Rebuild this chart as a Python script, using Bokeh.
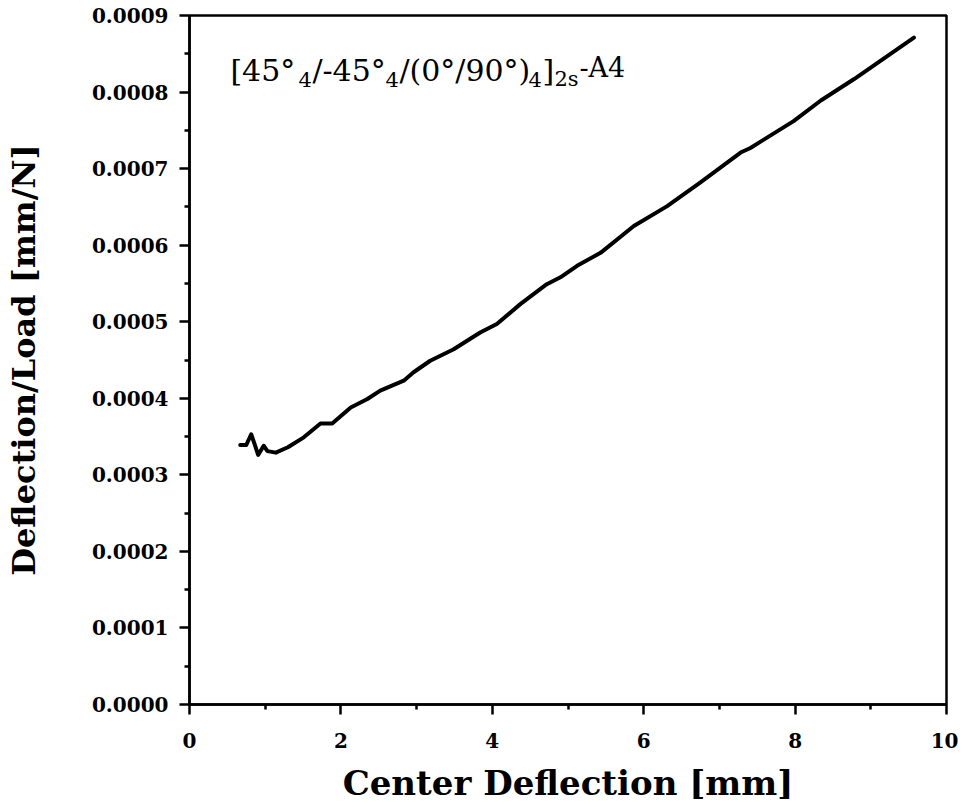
from bokeh.plotting import figure
from bokeh.models import Range1d, FixedTicker, NumeralTickFormatter, Label
from bokeh.embed import file_html
from bokeh.resources import INLINE

# Data
deflection = [0.67, 0.75, 0.815, 0.86, 0.907, 0.95, 0.98, 1.03, 1.14, 1.3, 1.51, 1.73, 1.885,
              2.13, 2.35, 2.52, 2.83, 2.96, 3.18, 3.49, 3.84, 4.06, 4.37, 4.72, 4.90, 5.12,
              5.43, 5.87, 6.31, 6.75, 7.28, 7.41, 7.98, 8.34, 8.78, 9.57]
defl_per_load = [0.000339, 0.000339, 0.000353, 0.000340, 0.000326, 0.000333, 0.000338, 0.000331,
                 0.000329, 0.000336, 0.000349, 0.000367, 0.000367, 0.000388, 0.000399, 0.000410,
                 0.000423, 0.000434, 0.000449, 0.000464, 0.000486, 0.000497, 0.000523, 0.000549,
                 0.000558, 0.000573, 0.000590, 0.000625, 0.000651, 0.000682, 0.000721, 0.000727,
                 0.000762, 0.000789, 0.000817, 0.000871]

x_ticks = [0, 2, 4, 6, 8, 10]
x_minor = [1, 3, 5, 7, 9]
y_ticks = [0.0, 0.0001, 0.0002, 0.0003, 0.0004, 0.0005, 0.0006, 0.0007, 0.0008, 0.0009]
y_minor = [0.00005, 0.00015, 0.00025, 0.00035, 0.00045, 0.00055, 0.00065, 0.00075, 0.00085]

x_label = "Center Deflection [mm]"
y_label = "Deflection/Load [mm/N]"

SERIF = "DejaVu Serif"

p = figure(width=958, height=807, output_backend="svg", toolbar_location=None,
           x_range=Range1d(0, 10), y_range=Range1d(0, 0.0009),
           min_border_left=189, min_border_right=12, min_border_top=15, min_border_bottom=103)

p.line(deflection, defl_per_load, line_color="black", line_width=4, line_join="round", line_cap="round")

p.xgrid.visible = False
p.ygrid.visible = False
p.outline_line_color = "black"
p.outline_line_width = 2.5

p.xaxis.ticker = FixedTicker(ticks=x_ticks, minor_ticks=x_minor)
p.yaxis.ticker = FixedTicker(ticks=y_ticks, minor_ticks=y_minor)
p.yaxis.formatter = NumeralTickFormatter(format="0.0000")

for ax in (p.xaxis[0], p.yaxis[0]):
    ax.axis_line_width = 2.5
    ax.axis_line_color = "black"
    ax.major_tick_line_width = 2.5
    ax.minor_tick_line_width = 2.5
    ax.major_tick_out = 10
    ax.major_tick_in = 0
    ax.minor_tick_out = 5
    ax.minor_tick_in = 0
    ax.major_label_text_font = SERIF
    ax.major_label_text_font_style = "bold"
    ax.major_label_text_font_size = "20px"
    ax.major_label_text_color = "black"
    ax.axis_label_text_font = SERIF
    ax.axis_label_text_font_style = "bold"
    ax.axis_label_text_color = "black"

p.xaxis.axis_label = x_label
p.yaxis.axis_label = y_label
p.xaxis.axis_label_text_font_size = "34px"
p.yaxis.axis_label_text_font_size = "32px"
p.xaxis.major_label_standoff = 18
p.xaxis.axis_label_standoff = 12
p.yaxis.major_label_standoff = 11
p.yaxis.axis_label_standoff = 46

# Annotation with subscripts
ax0 = 0.54
ay0, ay_sub, ay_sup = 0.0008285, 0.0008165, 0.0008325
segments = [
    ("[45°", 0, ay0, "30px"),
    ("4", 68, ay_sub, "21px"),
    ("/-45°", 82, ay0, "30px"),
    ("4", 155, ay_sub, "21px"),
    ("/(0°/90°)", 169, ay0, "30px"),
    ("4", 298, ay_sub, "21px"),
    ("]", 312, ay0, "30px"),
    ("2s", 324, ay_sub, "21px"),
    ("-A4", 349, ay_sup, "27px"),
]
for txt, dx, yy, fs in segments:
    p.add_layout(Label(x=ax0, y=yy, x_offset=dx, text=txt, text_font=SERIF,
                       text_font_size=fs, text_color="black",
                       text_baseline="alphabetic", text_align="left"))

open("out.html", "w").write(file_html(p, INLINE))
